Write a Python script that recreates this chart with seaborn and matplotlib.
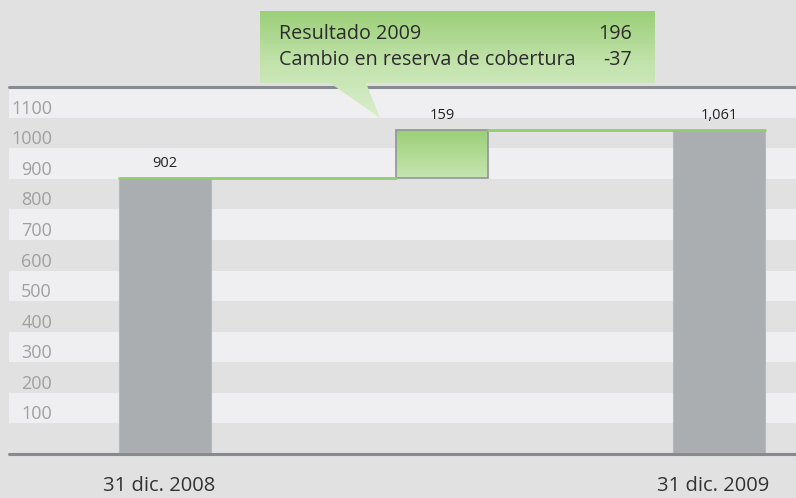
import numpy as np
import pandas as pd
import matplotlib.pyplot as plt
import matplotlib.transforms as mtransforms
from matplotlib.path import Path
from matplotlib.patches import PathPatch
from matplotlib.colors import LinearSegmentedColormap
import seaborn as sns

# Data
categories = ["31 dic. 2008", "cambio", "31 dic. 2009"]
tick_labels = ["31 dic. 2008", "", "31 dic. 2009"]
start_value = 902
change_value = 159
end_value = 1061
totals = [902, 0, 1061]
bar_labels = ["902", "159", "1,061"]
callout_items = ["Resultado 2009", "Cambio en reserva de cobertura"]
callout_values = ["196", "-37"]
y_ticks = list(range(100, 1200, 100))

sns.set_theme(style="white")
plt.rcParams['font.family'] = ['Open Sans', 'DejaVu Sans']

BG = '#e1e1e1'
BAND = '#efeff1'
GRAY_BAR = '#abaeb1'
GREEN = '#93cc6e'
RULE = '#878b8f'

fig = plt.figure(figsize=(7.96, 4.98), dpi=100, facecolor=BG)
ax = fig.add_axes([9 / 796, 44 / 498, 787 / 796, 367 / 498])
ax.set_facecolor(BG)

# alternating bands
for lo in range(100, 1200, 200):
    ax.axhspan(lo, lo + 100, color=BAND, lw=0, zorder=0)

df = pd.DataFrame({"fecha": categories, "valor": totals})
width = 0.33
sns.barplot(data=df, x="fecha", y="valor", order=categories, color=GRAY_BAR,
            saturation=1, width=width, edgecolor='#b7babd', linewidth=0.8,
            ax=ax, zorder=2)

# floating change bar with gradient
cb = ax.bar(1, change_value, bottom=start_value, width=width,
            facecolor='none', edgecolor='#8f9498', linewidth=1.2, zorder=4)[0]
grad = LinearSegmentedColormap.from_list('g', ['#c6e4b1', '#9acf76'])
img = ax.imshow(np.linspace(0, 1, 100).reshape(-1, 1), cmap=grad, aspect='auto',
                origin='lower',
                extent=[1 - width / 2, 1 + width / 2, start_value, start_value + change_value],
                zorder=3)
img.set_clip_path(cb)

# connectors
ax.plot([-width / 2, 1 - width / 2], [start_value, start_value], color=GREEN, lw=2, zorder=5)
ax.plot([1 + width / 2, 2 + width / 2], [end_value, end_value], color=GREEN, lw=2, zorder=5)

# value labels
for x, top, lab in zip([0, 1, 2], [start_value, start_value + change_value, end_value], bar_labels):
    ax.annotate(lab, (x, top), xytext=(0, 5), textcoords='offset points',
                ha='center', va='bottom', fontsize=10.5, color='#222222', zorder=6)

# top and bottom rules
ax.axhline(1200, color=RULE, lw=2.2, zorder=6, clip_on=False)
ax.axhline(0, color=RULE, lw=2.2, zorder=6, clip_on=False)

ax.set_xlim(-0.563, 2.278)
ax.set_ylim(0, 1200)
ax.set_yticks(y_ticks)
ax.set_yticklabels([str(t) for t in y_ticks])
ax.tick_params(axis='y', length=0, pad=-31, labelsize=13, labelcolor='#a0a0a0')
off = mtransforms.ScaledTranslation(0, 0.11, fig.dpi_scale_trans)
for lab in ax.get_yticklabels():
    lab.set_horizontalalignment('right')
    lab.set_transform(lab.get_transform() + off)
ax.set_xticks([0, 1, 2])
ax.set_xticklabels(tick_labels)
ax.tick_params(axis='x', length=0, pad=16, labelsize=14.5, labelcolor='#333333')
xoff = mtransforms.ScaledTranslation(-0.06, 0, fig.dpi_scale_trans)
for lab in ax.get_xticklabels():
    lab.set_transform(lab.get_transform() + xoff)
ax.set_xlabel('')
ax.set_ylabel('')
for s in ax.spines.values():
    s.set_visible(False)

# callout box with pointer
cax = fig.add_axes([260 / 796, 1 - 118 / 498, 395 / 796, 107 / 498])
cax.set_xlim(260, 655)
cax.set_ylim(118, 11)
cax.axis('off')
cgrad = LinearSegmentedColormap.from_list('c', ['#9bcf77', '#c3e3ad', '#d9eecb'])
cimg = cax.imshow(np.linspace(0, 1, 100).reshape(-1, 1), cmap=cgrad, aspect='auto',
                  extent=[260, 655, 118, 11])
verts = [(260, 11), (655, 11), (655, 83), (366, 83), (380, 118), (330, 83), (260, 83), (260, 11)]
path = Path(verts, [Path.MOVETO] + [Path.LINETO] * 6 + [Path.CLOSEPOLY])
patch = PathPatch(path, facecolor='none', edgecolor='none', transform=cax.transData)
cax.add_patch(patch)
cimg.set_clip_path(patch)
for i, (item, val) in enumerate(zip(callout_items, callout_values)):
    y = 34 + i * 26
    cax.text(279, y, item, ha='left', va='center', fontsize=14.2, color='#2b2b2b')
    cax.text(632, y, val, ha='right', va='center', fontsize=14.2, color='#2b2b2b')

fig.savefig('out.png', dpi=100, facecolor=BG)
